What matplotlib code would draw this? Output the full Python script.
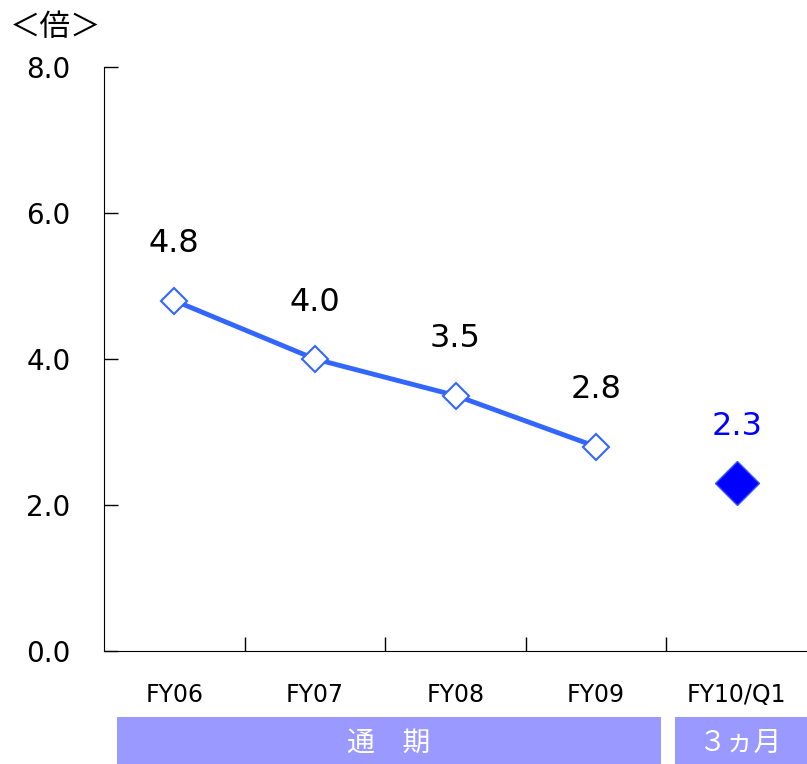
import matplotlib.pyplot as plt
from matplotlib.patches import Rectangle

plt.rcParams['font.family'] = ['DejaVu Sans', 'Noto Sans CJK JP']

categories = ['FY06', 'FY07', 'FY08', 'FY09', 'FY10/Q1']
annual = [4.8, 4.0, 3.5, 2.8]
quarter = 2.3
y_ticks = [0.0, 2.0, 4.0, 6.0, 8.0]

fig = plt.figure(figsize=(8.07, 7.64), dpi=100)
ax = fig.add_axes([104 / 807, 113 / 764, 703 / 807, 584 / 764])

xs = [i + 0.5 for i in range(len(categories))]

ax.plot(xs[:4], annual, color='#3366FF', lw=3.5, marker='D', ms=13,
        mfc='white', mec='#3366FF', mew=1.5, zorder=3)
ax.plot(xs[4], quarter, marker='D', ms=22, color='#0000FF',
        mec='#3355FF', mew=1, zorder=3)

for x, v in zip(xs[:4], annual):
    ax.text(x, v + 0.78, f'{v:.1f}', ha='center', va='center', fontsize=23)
ax.text(xs[4], quarter + 0.78, f'{quarter:.1f}', ha='center', va='center',
        fontsize=23, color='#0000FF')

ax.set_xlim(0, 5)
ax.set_ylim(0, 8)
ax.set_yticks(y_ticks)
ax.set_yticklabels([f'{t:.1f}' for t in y_ticks], fontsize=20)
ax.set_xticks([1, 2, 3, 4])
ax.set_xticklabels([])
ax.tick_params(axis='both', direction='in', length=10, width=1)
ax.tick_params(axis='y', pad=24)
for s in ['top', 'right']:
    ax.spines[s].set_visible(False)

# category names under the axis
for x, c in zip(xs, categories):
    ax.text(x, -0.6, c, ha='center', va='center', fontsize=17,
            transform=ax.transData, clip_on=False)

# period bands
bands = [(117, 661, '通　期'), (675, 807, '３ヵ月')]
for x0, x1, label in bands:
    fig.patches.append(Rectangle((x0 / 807, 0), (x1 - x0) / 807, 47 / 764,
                                 transform=fig.transFigure,
                                 facecolor='#9999FF', edgecolor='none'))
    fig.text((x0 + x1) / 2 / 807, 21 / 764, label, ha='center', va='center',
             color='white', fontsize=20, family='Noto Sans CJK JP')

fig.text(10 / 807, 736 / 764, '＜倍＞', ha='left', va='center', fontsize=22,
         family='Noto Sans CJK JP')

fig.savefig('out.png', dpi=100)
